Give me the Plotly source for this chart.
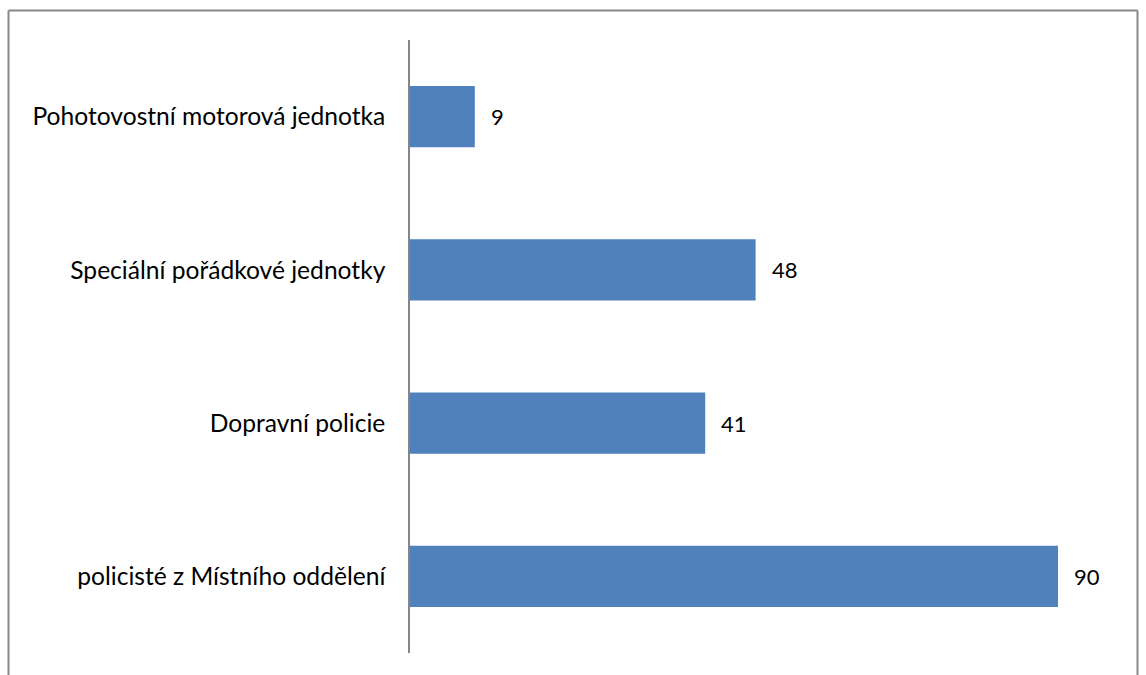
import plotly.graph_objects as go

categories = ["policisté z Místního oddělení", "Dopravní policie",
              "Speciální pořádkové jednotky", "Pohotovostní motorová jednotka"]
values = [90, 41, 48, 9]

W, H = 1146, 675
ml, mr, mt, mb = 410, 16, 40, 22
pw, ph = W - ml - mr, H - mt - mb

def px_x(p):
    return (p - ml) / pw

def px_y(p):
    return 1 - (p - mt) / ph

FONT = "Lato"

fig = go.Figure(go.Bar(
    x=values, y=categories, orientation="h",
    marker=dict(color="#4F81BD", line=dict(width=0)),
    width=0.4,
))

for v, c in zip(values, categories):
    fig.add_annotation(x=v, y=c, text=str(v), showarrow=False,
                       xanchor="left", xshift=14,
                       font=dict(family=FONT, size=22, color="#000000"))

border = "#878787"
fig.add_shape(type="line", xref="paper", yref="paper",
              x0=px_x(8.5), x1=px_x(1137.5), y0=px_y(10.5), y1=px_y(10.5),
              line=dict(color=border, width=2))
fig.add_shape(type="line", xref="paper", yref="paper",
              x0=px_x(8.5), x1=px_x(8.5), y0=px_y(10.5), y1=px_y(680),
              line=dict(color=border, width=2))
fig.add_shape(type="line", xref="paper", yref="paper",
              x0=px_x(1137.5), x1=px_x(1137.5), y0=px_y(10.5), y1=px_y(680),
              line=dict(color=border, width=2))

fig.update_layout(
    width=W, height=H,
    margin=dict(l=ml, r=mr, t=mt, b=mb),
    paper_bgcolor="white", plot_bgcolor="white",
    showlegend=False,
    font=dict(family=FONT, size=24.6, color="#000000"),
    xaxis=dict(range=[0, 100], visible=False, fixedrange=True),
    yaxis=dict(categoryorder="array", categoryarray=categories,
               showline=True, linecolor="#868686", linewidth=1.5,
               showgrid=False, zeroline=False, ticks="",
               ticklabelstandoff=18,
               tickfont=dict(family=FONT, size=24.6, color="#000000")),
)

fig.write_html("out.html")
